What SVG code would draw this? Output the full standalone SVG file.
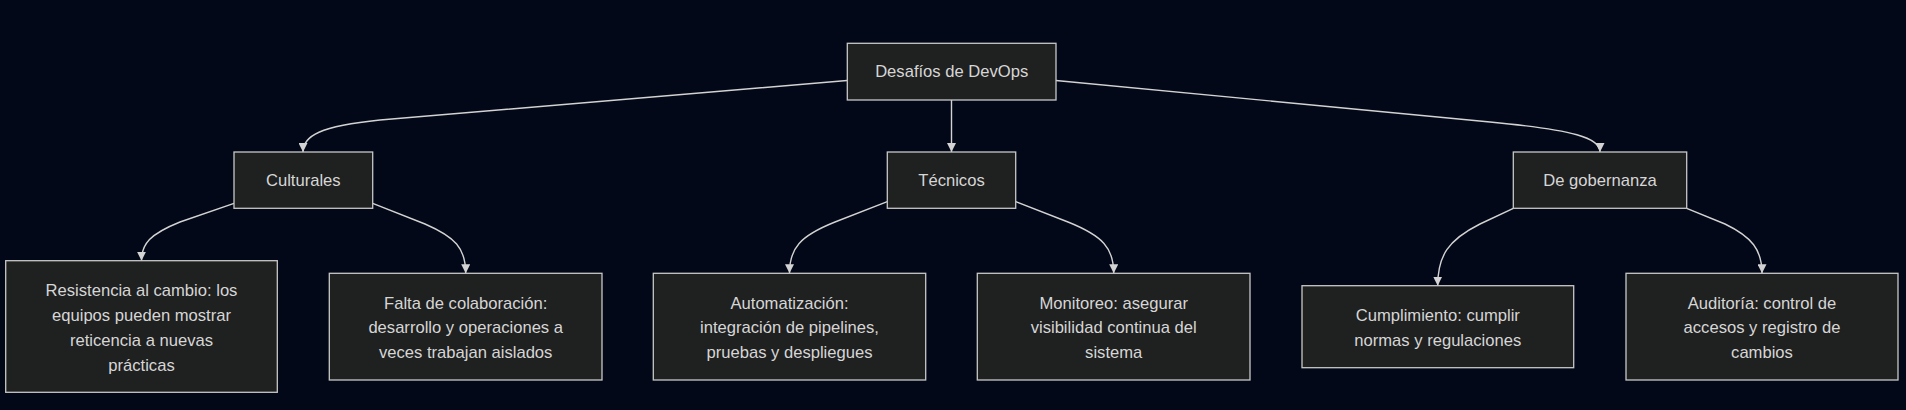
<svg xmlns="http://www.w3.org/2000/svg" width="1906" height="410" viewBox="0 0 1906 410">
<style>
.bg{fill:#020817}
.node rect{fill:#1f2020;stroke:#c8c8c8;stroke-width:1.3}
.node text{font-family:"Liberation Sans",Arial,sans-serif;font-size:16.6px;fill:#d6d6d6;text-anchor:middle;dominant-baseline:central}
.edge{fill:none;stroke:#d3d3d3;stroke-width:1.4}
</style>
<defs>
<marker id="arr" viewBox="0 0 10 10" refX="10" refY="5" markerWidth="9" markerHeight="9" orient="auto" markerUnits="userSpaceOnUse">
<path d="M0,0 L10,5 L0,10 z" fill="#d3d3d3"/>
</marker>
</defs>
<rect class="bg" x="0" y="0" width="1906" height="410"/>
<g id="connectors">
<path class="edge" marker-end="url(#arr)" d="M847,80.5 L380,120 C320,126 303,136 303,152"/>
<path class="edge" marker-end="url(#arr)" d="M951.5,100 L951.5,152"/>
<path class="edge" marker-end="url(#arr)" d="M1056,80.5 L1490,122 C1575,130 1600,138 1600,152"/>
<path class="edge" marker-end="url(#arr)" d="M234,203.3 L180,222 C150,234 141.5,244 141.5,260.7"/>
<path class="edge" marker-end="url(#arr)" d="M372.7,203.3 L425,224 C455,237 465.7,248 465.7,273.3"/>
<path class="edge" marker-end="url(#arr)" d="M887.3,201.7 L835,222 C800,236 789.5,248 789.5,273.3"/>
<path class="edge" marker-end="url(#arr)" d="M1015.7,201.7 L1068,222 C1103,236 1113.7,248 1113.7,273.3"/>
<path class="edge" marker-end="url(#arr)" d="M1513.3,208.3 L1480,224 C1448,240 1437.7,256 1437.7,285.7"/>
<path class="edge" marker-end="url(#arr)" d="M1686.7,208.3 L1725,224 C1752,237 1762,250 1762,273.3"/>
</g>
<g id="root" class="node">
<rect x="847.3" y="43.3" width="208.7" height="56.7"/>
<text x="951.7" y="71.7">Desafíos de DevOps</text>
</g>
<g id="culturales" class="node">
<rect x="234" y="152" width="138.7" height="56.3"/>
<text x="303.3" y="180.2">Culturales</text>
</g>
<g id="tecnicos" class="node">
<rect x="887.3" y="152" width="128.4" height="56.3"/>
<text x="951.5" y="180.2">Técnicos</text>
</g>
<g id="gobernanza" class="node">
<rect x="1513.3" y="152" width="173.4" height="56.3"/>
<text x="1600" y="180.2">De gobernanza</text>
</g>
<g id="resistencia" class="node">
<rect x="5.7" y="260.7" width="271.6" height="131.6"/>
<text x="141.5" y="290">Resistencia al cambio: los</text>
<text x="141.5" y="315">equipos pueden mostrar</text>
<text x="141.5" y="340">reticencia a nuevas</text>
<text x="141.5" y="365">prácticas</text>
</g>
<g id="falta" class="node">
<rect x="329.3" y="273.3" width="272.7" height="106.7"/>
<text x="465.7" y="303">Falta de colaboración:</text>
<text x="465.7" y="327.5">desarrollo y operaciones a</text>
<text x="465.7" y="352">veces trabajan aislados</text>
</g>
<g id="automatizacion" class="node">
<rect x="653.3" y="273.3" width="272.4" height="106.7"/>
<text x="789.5" y="303">Automatización:</text>
<text x="789.5" y="327.5">integración de pipelines,</text>
<text x="789.5" y="352">pruebas y despliegues</text>
</g>
<g id="monitoreo" class="node">
<rect x="977.3" y="273.3" width="272.7" height="106.7"/>
<text x="1113.7" y="303">Monitoreo: asegurar</text>
<text x="1113.7" y="327.5">visibilidad continua del</text>
<text x="1113.7" y="352">sistema</text>
</g>
<g id="cumplimiento" class="node">
<rect x="1302" y="285.7" width="271.7" height="82"/>
<text x="1437.8" y="315">Cumplimiento: cumplir</text>
<text x="1437.8" y="340">normas y regulaciones</text>
</g>
<g id="auditoria" class="node">
<rect x="1626" y="273.3" width="272" height="106.7"/>
<text x="1762" y="303">Auditoría: control de</text>
<text x="1762" y="327.5">accesos y registro de</text>
<text x="1762" y="352">cambios</text>
</g>
</svg>
